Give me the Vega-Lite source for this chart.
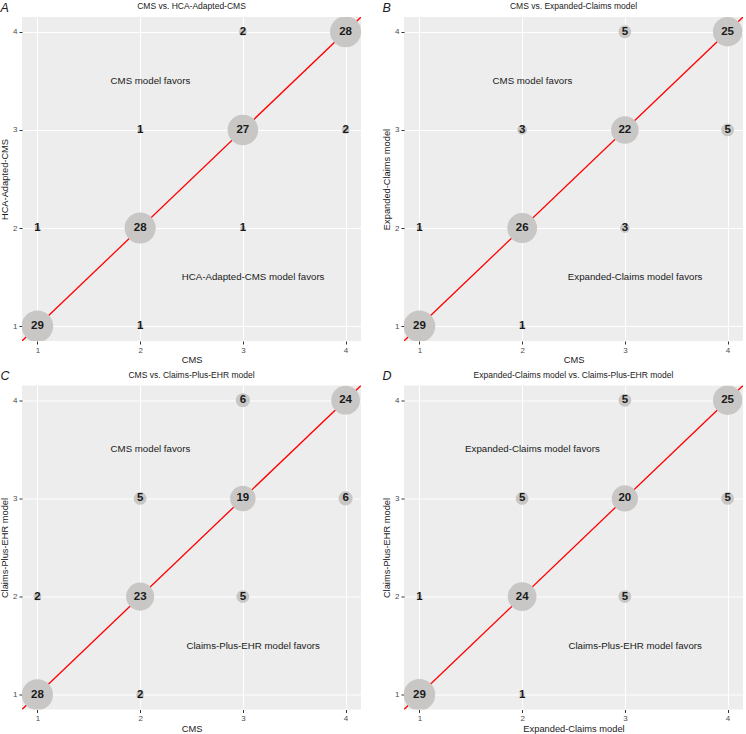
{
  "$schema": "https://vega.github.io/schema/vega-lite/v6.json",
  "background": "white",
  "padding": {"left": 0, "top": 1, "right": 0, "bottom": 0},
  "config": {
    "font": "Liberation Sans",
    "view": {"fill": "#EDEDED", "stroke": null},
    "axis": {"grid": true, "gridColor": "white", "gridWidth": 1.1, "domain": false, "tickColor": "#333333", "tickSize": 3, "tickWidth": 1, "labelFontSize": 8, "labelColor": "#4D4D4D", "labelPadding": 2, "titleFontSize": 9.3, "titleFontWeight": "normal", "titleColor": "#1A1A1A", "titlePadding": 1.5, "labelFont": "Liberation Sans", "titleFont": "Liberation Sans"},
    "axisY": {"labelAngle": 0, "titlePadding": 3},
    "title": {"fontSize": 8.5, "fontWeight": "normal", "color": "#1A1A1A", "anchor": "middle", "offset": 6.5, "font": "Liberation Sans"}
  },
  "datasets": {
    "diag": [{"x": 0, "y": 0}, {"x": 5, "y": 5}],
    "countsA": [
      {"x": 1, "y": 1, "n": 29}, {"x": 2, "y": 1, "n": 1}, {"x": 1, "y": 2, "n": 1}, {"x": 2, "y": 2, "n": 28}, {"x": 3, "y": 2, "n": 1},
      {"x": 2, "y": 3, "n": 1}, {"x": 3, "y": 3, "n": 27}, {"x": 4, "y": 3, "n": 2}, {"x": 3, "y": 4, "n": 2}, {"x": 4, "y": 4, "n": 28}
    ],
    "countsB": [
      {"x": 1, "y": 1, "n": 29}, {"x": 2, "y": 1, "n": 1}, {"x": 1, "y": 2, "n": 1}, {"x": 2, "y": 2, "n": 26}, {"x": 3, "y": 2, "n": 3},
      {"x": 2, "y": 3, "n": 3}, {"x": 3, "y": 3, "n": 22}, {"x": 4, "y": 3, "n": 5}, {"x": 3, "y": 4, "n": 5}, {"x": 4, "y": 4, "n": 25}
    ],
    "countsC": [
      {"x": 1, "y": 1, "n": 28}, {"x": 2, "y": 1, "n": 2}, {"x": 1, "y": 2, "n": 2}, {"x": 2, "y": 2, "n": 23}, {"x": 3, "y": 2, "n": 5},
      {"x": 2, "y": 3, "n": 5}, {"x": 3, "y": 3, "n": 19}, {"x": 4, "y": 3, "n": 6}, {"x": 3, "y": 4, "n": 6}, {"x": 4, "y": 4, "n": 24}
    ],
    "countsD": [
      {"x": 1, "y": 1, "n": 29}, {"x": 2, "y": 1, "n": 1}, {"x": 1, "y": 2, "n": 1}, {"x": 2, "y": 2, "n": 24}, {"x": 3, "y": 2, "n": 5},
      {"x": 2, "y": 3, "n": 5}, {"x": 3, "y": 3, "n": 20}, {"x": 4, "y": 3, "n": 5}, {"x": 3, "y": 4, "n": 5}, {"x": 4, "y": 4, "n": 25}
    ],
    "notesA": [{"x": 2.1, "y": 3.5, "label": "CMS model favors"}, {"x": 3.1, "y": 1.5, "label": "HCA-Adapted-CMS model favors"}],
    "notesB": [{"x": 2.1, "y": 3.5, "label": "CMS model favors"}, {"x": 3.1, "y": 1.5, "label": "Expanded-Claims model favors"}],
    "notesC": [{"x": 2.1, "y": 3.5, "label": "CMS model favors"}, {"x": 3.1, "y": 1.5, "label": "Claims-Plus-EHR model favors"}],
    "notesD": [{"x": 2.1, "y": 3.5, "label": "Expanded-Claims model favors"}, {"x": 3.1, "y": 1.5, "label": "Claims-Plus-EHR model favors"}]
  },
  "spacing": 4.5,
  "vconcat": [
    {
      "spacing": 21,
      "hconcat": [
        {
          "title": {"text": "A", "anchor": "start", "frame": "bounds", "fontStyle": "italic", "fontSize": 12.5, "offset": -12, "color": "#1A1A1A"},
          "vconcat": [
            {
              "width": 339, "height": 324,
              "title": "CMS vs. HCA-Adapted-CMS",
              "encoding": {
                "x": {"field": "x", "type": "quantitative", "scale": {"domain": [0.85, 4.15], "nice": false, "zero": false}, "axis": {"title": "CMS", "values": [1, 2, 3, 4], "format": "d"}},
                "y": {"field": "y", "type": "quantitative", "scale": {"domain": [0.85, 4.15], "nice": false, "zero": false}, "axis": {"title": "HCA-Adapted-CMS", "values": [1, 2, 3, 4], "format": "d"}}
              },
              "layer": [
                {"data": {"name": "diag"}, "mark": {"type": "line", "color": "#FF0000", "strokeWidth": 1.3, "clip": true}},
                {"data": {"name": "countsA"}, "mark": {"type": "circle", "color": "#C8C7C5", "opacity": 1, "clip": true}, "encoding": {"size": {"field": "n", "type": "quantitative", "scale": {"domain": [1, 29], "range": [25, 1000]}, "legend": null}}},
                {"data": {"name": "countsA"}, "mark": {"type": "text", "fontWeight": "bold", "fontSize": 11.5, "color": "#1A1A1A"}, "encoding": {"text": {"field": "n", "type": "quantitative"}}},
                {"data": {"name": "notesA"}, "mark": {"type": "text", "fontSize": 9.7, "color": "#1A1A1A"}, "encoding": {"text": {"field": "label", "type": "nominal"}}}
              ]
            }
          ]
        },
        {
          "title": {"text": "B", "anchor": "start", "frame": "bounds", "fontStyle": "italic", "fontSize": 12.5, "offset": -12, "color": "#1A1A1A"},
          "vconcat": [
            {
              "width": 339, "height": 324,
              "title": "CMS vs. Expanded-Claims model",
              "encoding": {
                "x": {"field": "x", "type": "quantitative", "scale": {"domain": [0.85, 4.15], "nice": false, "zero": false}, "axis": {"title": "CMS", "values": [1, 2, 3, 4], "format": "d"}},
                "y": {"field": "y", "type": "quantitative", "scale": {"domain": [0.85, 4.15], "nice": false, "zero": false}, "axis": {"title": "Expanded-Claims model", "values": [1, 2, 3, 4], "format": "d"}}
              },
              "layer": [
                {"data": {"name": "diag"}, "mark": {"type": "line", "color": "#FF0000", "strokeWidth": 1.3, "clip": true}},
                {"data": {"name": "countsB"}, "mark": {"type": "circle", "color": "#C8C7C5", "opacity": 1, "clip": true}, "encoding": {"size": {"field": "n", "type": "quantitative", "scale": {"domain": [1, 29], "range": [25, 1000]}, "legend": null}}},
                {"data": {"name": "countsB"}, "mark": {"type": "text", "fontWeight": "bold", "fontSize": 11.5, "color": "#1A1A1A"}, "encoding": {"text": {"field": "n", "type": "quantitative"}}},
                {"data": {"name": "notesB"}, "mark": {"type": "text", "fontSize": 9.7, "color": "#1A1A1A"}, "encoding": {"text": {"field": "label", "type": "nominal"}}}
              ]
            }
          ]
        }
      ]
    },
    {
      "spacing": 21,
      "hconcat": [
        {
          "title": {"text": "C", "anchor": "start", "frame": "bounds", "fontStyle": "italic", "fontSize": 12.5, "offset": -12, "color": "#1A1A1A"},
          "vconcat": [
            {
              "width": 339, "height": 324,
              "title": "CMS vs. Claims-Plus-EHR model",
              "encoding": {
                "x": {"field": "x", "type": "quantitative", "scale": {"domain": [0.85, 4.15], "nice": false, "zero": false}, "axis": {"title": "CMS", "values": [1, 2, 3, 4], "format": "d"}},
                "y": {"field": "y", "type": "quantitative", "scale": {"domain": [0.85, 4.15], "nice": false, "zero": false}, "axis": {"title": "Claims-Plus-EHR model", "values": [1, 2, 3, 4], "format": "d"}}
              },
              "layer": [
                {"data": {"name": "diag"}, "mark": {"type": "line", "color": "#FF0000", "strokeWidth": 1.3, "clip": true}},
                {"data": {"name": "countsC"}, "mark": {"type": "circle", "color": "#C8C7C5", "opacity": 1, "clip": true}, "encoding": {"size": {"field": "n", "type": "quantitative", "scale": {"domain": [1, 29], "range": [25, 1000]}, "legend": null}}},
                {"data": {"name": "countsC"}, "mark": {"type": "text", "fontWeight": "bold", "fontSize": 11.5, "color": "#1A1A1A"}, "encoding": {"text": {"field": "n", "type": "quantitative"}}},
                {"data": {"name": "notesC"}, "mark": {"type": "text", "fontSize": 9.7, "color": "#1A1A1A"}, "encoding": {"text": {"field": "label", "type": "nominal"}}}
              ]
            }
          ]
        },
        {
          "title": {"text": "D", "anchor": "start", "frame": "bounds", "fontStyle": "italic", "fontSize": 12.5, "offset": -12, "color": "#1A1A1A"},
          "vconcat": [
            {
              "width": 339, "height": 324,
              "title": "Expanded-Claims model vs. Claims-Plus-EHR model",
              "encoding": {
                "x": {"field": "x", "type": "quantitative", "scale": {"domain": [0.85, 4.15], "nice": false, "zero": false}, "axis": {"title": "Expanded-Claims model", "values": [1, 2, 3, 4], "format": "d"}},
                "y": {"field": "y", "type": "quantitative", "scale": {"domain": [0.85, 4.15], "nice": false, "zero": false}, "axis": {"title": "Claims-Plus-EHR model", "values": [1, 2, 3, 4], "format": "d"}}
              },
              "layer": [
                {"data": {"name": "diag"}, "mark": {"type": "line", "color": "#FF0000", "strokeWidth": 1.3, "clip": true}},
                {"data": {"name": "countsD"}, "mark": {"type": "circle", "color": "#C8C7C5", "opacity": 1, "clip": true}, "encoding": {"size": {"field": "n", "type": "quantitative", "scale": {"domain": [1, 29], "range": [25, 1000]}, "legend": null}}},
                {"data": {"name": "countsD"}, "mark": {"type": "text", "fontWeight": "bold", "fontSize": 11.5, "color": "#1A1A1A"}, "encoding": {"text": {"field": "n", "type": "quantitative"}}},
                {"data": {"name": "notesD"}, "mark": {"type": "text", "fontSize": 9.7, "color": "#1A1A1A"}, "encoding": {"text": {"field": "label", "type": "nominal"}}}
              ]
            }
          ]
        }
      ]
    }
  ]
}
